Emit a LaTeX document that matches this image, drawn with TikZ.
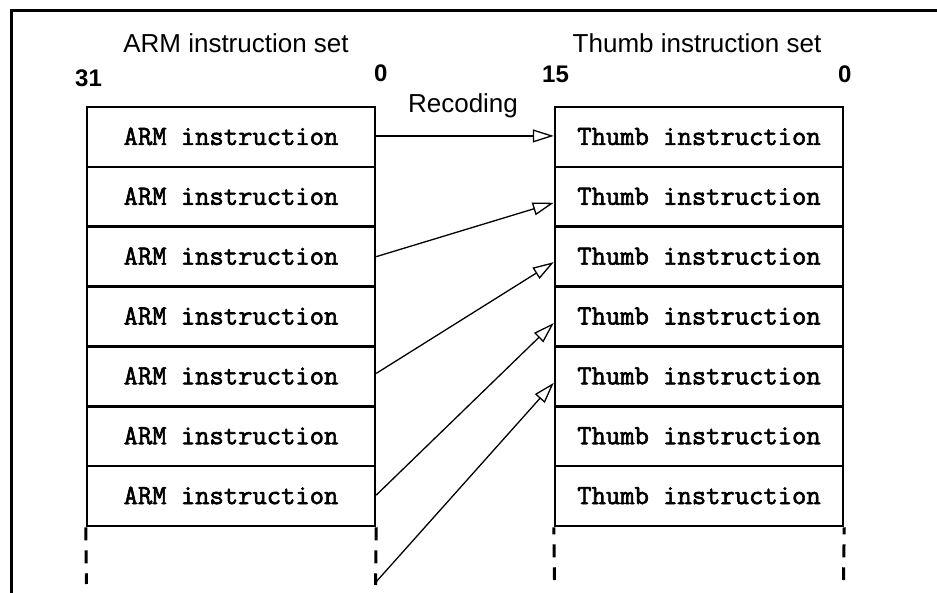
\documentclass[tikz,border=0pt]{standalone}
\usepackage{fontspec}
\setmainfont{Liberation Sans}
\setmonofont{Latin Modern Mono}[BoldFont=Latin Modern Mono, BoldFeatures={FakeBold=2.2}]
\usetikzlibrary{arrows.meta}
\begin{document}
\begin{tikzpicture}[x=1pt,y=-1pt,
  insbox/.style={draw, line width=2.5pt, minimum width=288pt, minimum height=59.86pt, inner sep=0pt,
    font=\ttfamily\bfseries\fontsize{27.8}{30}\selectfont, text height=16pt, text depth=0pt},
  titletext/.style={inner sep=0pt, anchor=base, font=\fontsize{26}{30}\selectfont},
  bitnum/.style={inner sep=0pt, anchor=base west, font=\bfseries\fontsize{24}{28}\selectfont},
  recode/.style={line width=1.3pt, -{Triangle[open, length=21pt, width=13pt, fill=white]}},
  dashline/.style={line width=3pt, dash pattern=on 13pt off 10pt},
  frameline/.style={line width=3pt}]
\useasboundingbox (0,0) rectangle (937,593);

% frame
\coordinate (fR) at (937,11);
\coordinate (fC) at (11,11);
\coordinate (fL) at (11,593);
\draw[frameline] (fR) -- (fC) -- (fL);

% boxes
\foreach \i in {1,...,7} {
  \node[insbox] (a\i) at (231,{107+59.86*\i-29.93}) {ARM instruction};
  \node[insbox] (t\i) at (699,{107+59.86*\i-29.93}) {Thumb instruction};
}

% dashed continuations
\coordinate (ad1) at (86.5,584);
\coordinate (ad2) at (375.5,585);
\coordinate (td1) at (554.5,580);
\coordinate (td2) at (843.5,580);
\draw[dashline] (a7.south west) -- (ad1);
\draw[dashline] (a7.south east) -- (ad2);
\draw[dashline, dash phase=6pt] (t7.south west) -- (td1);
\draw[dashline, dash phase=6pt] (t7.south east) -- (td2);

% titles and bit numbers
\node[titletext] (armt) at (236,53) {ARM instruction set};
\node[titletext] (thumbt) at (697,53) {Thumb instruction set};
\node[bitnum] (b31) at (75,87) {31};
\node[bitnum] (b0a) at (374,82) {0};
\node[bitnum] (b15) at (542,83) {15};
\node[bitnum] (b0b) at (838,83) {0};
\node[titletext] (rec) at (463,113) {Recoding};

% recoding arrows
\coordinate (e5) at (376,582);
\draw[recode] ([yshift=1pt]a1.east) -- ([yshift=1pt]t1.west);
\draw[recode] (a3.east) -- ([yshift=-6pt]t2.west);
\draw[recode] ([yshift=3pt]a5.east) -- ([yshift=-5.5pt]t3.west);
\draw[recode] ([yshift=1pt]a7.east) -- ([yshift=-6.5pt]t4.west);
\draw[recode] (e5) -- ([yshift=-6.5pt]t5.west);
\end{tikzpicture}
\end{document}
